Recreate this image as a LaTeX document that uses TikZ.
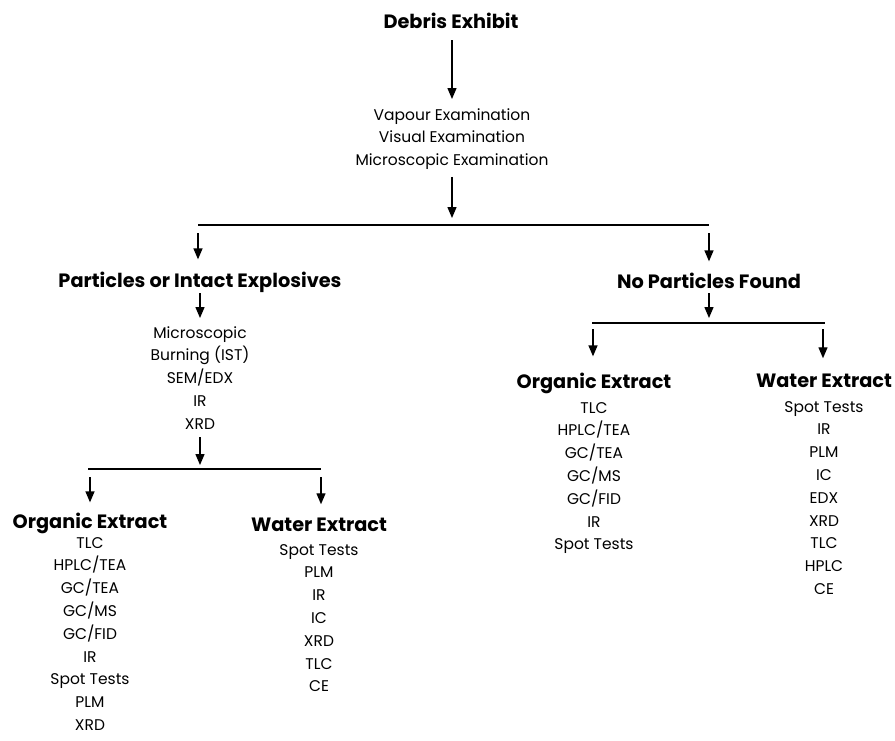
\documentclass[tikz,border=0pt]{standalone}
\usepackage{fontspec}
\setmainfont{Poppins}
\usetikzlibrary{arrows.meta}
\begin{document}
\begin{tikzpicture}[x=1pt,y=-1pt,
  arr/.style={-{Triangle[length=11pt,width=9pt]}, line width=1.4pt},
  ln/.style={line width=1.4pt},
  head/.style={font=\fontsize{19.3}{22}\selectfont\bfseries, inner sep=0pt, anchor=base},
  items/.style={font=\fontsize{15.5}{22.8}\selectfont, align=center, inner sep=0pt, anchor=north},
]
\useasboundingbox (0,0) rectangle (895,740);

\node[head] (title) at (451,28) {Debris Exhibit};
\node[items] (exam) at (452,108) {Vapour Examination\\Visual Examination\\Microscopic Examination};

\coordinate (bL) at (198,225);
\coordinate (bR) at (709,225);
\draw[ln] (bL) -- (bR);

\node[head] (part) at (200,287) {Particles or Intact Explosives};
\node[head] (nopart) at (709,288) {No Particles Found};

\node[items] (pitems) at (200,326) {Microscopic\\Burning (IST)\\SEM/EDX\\IR\\XRD};

\coordinate (cL) at (88,469);
\coordinate (cR) at (321,469);
\draw[ln] (cL) -- (cR);

\node[head] (orgL) at (90,528) {Organic Extract};
\node[head] (watL) at (319,531) {Water Extract};
\node[items] (orgLi) at (90,537) {TLC\\HPLC/TEA\\GC/TEA\\GC/MS\\GC/FID\\IR\\Spot Tests\\PLM\\XRD};
\node[items] (watLi) at (319,544) {Spot Tests\\PLM\\IR\\IC\\XRD\\TLC\\CE};

\coordinate (dL) at (592,323);
\coordinate (dR) at (825,323);
\draw[ln] (dL) -- (dR);

\node[head] (orgR) at (594,388) {Organic Extract};
\node[head] (watR) at (824,387) {Water Extract};
\node[items] (orgRi) at (594,402) {TLC\\HPLC/TEA\\GC/TEA\\GC/MS\\GC/FID\\IR\\Spot Tests};
\node[items] (watRi) at (824,401) {Spot Tests\\IR\\PLM\\IC\\EDX\\XRD\\TLC\\HPLC\\CE};

% connectors
\draw[arr, shorten <=12pt, shorten >=9pt] (title.south -| exam.north) -- (exam.north);
\draw[arr, shorten <=7pt, shorten >=7pt] (exam.south) -- (exam.south |- bL);
\draw[arr, shorten <=8pt, shorten >=12pt] (bL) -- (bL |- part.north);
\draw[arr, shorten <=8pt, shorten >=11pt] (bR) -- (bR |- nopart.north);
\draw[arr, shorten <=1pt, shorten >=8pt] (part.south) -- (part.south |- pitems.north);
\draw[arr, shorten <=8pt, shorten >=4pt] (pitems.south) -- (pitems.south |- cL);
\draw[arr, shorten <=5pt, shorten >=5pt] (nopart.south) -- (nopart.south |- dL);
\draw[arr, shorten <=8pt, shorten >=10pt] (cL) ++(2,0) coordinate (cL2) (cL2) -- (cL2 |- orgL.north);
\draw[arr, shorten <=8pt, shorten >=13pt] (cR) -- (cR |- watL.north);
\draw[arr, shorten <=6pt, shorten >=16pt] (dL) ++(1,0) coordinate (dL2) (dL2) -- (dL2 |- orgR.north);
\draw[arr, shorten <=6pt, shorten >=15pt] (dR) ++(-2,0) coordinate (dR2) (dR2) -- (dR2 |- watR.north);
\end{tikzpicture}
\end{document}
